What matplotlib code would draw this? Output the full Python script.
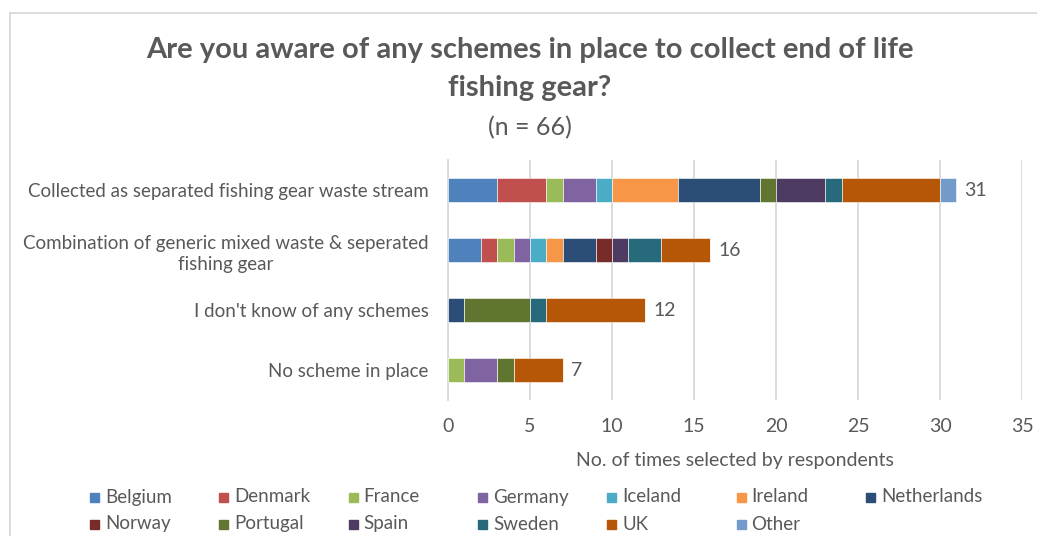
import matplotlib
matplotlib.use('Agg')
import matplotlib.pyplot as plt
from matplotlib.patches import Rectangle
from matplotlib.lines import Line2D
import numpy as np

categories = [
    'Collected as separated fishing gear waste stream',
    'Combination of generic mixed waste & seperated\nfishing gear',
    "I don't know of any schemes",
    'No scheme in place',
]
countries = ['Belgium', 'Denmark', 'France', 'Germany', 'Iceland', 'Ireland', 'Netherlands',
             'Norway', 'Portugal', 'Spain', 'Sweden', 'UK', 'Other']
# values per country, in category order
belgium = [3, 2, 0, 0]
denmark = [3, 1, 0, 0]
france = [1, 1, 0, 1]
germany = [2, 1, 0, 2]
iceland = [1, 1, 0, 0]
ireland = [4, 1, 0, 0]
netherlands = [5, 2, 1, 0]
norway = [0, 1, 0, 0]
portugal = [1, 0, 4, 1]
spain = [3, 1, 0, 0]
sweden = [1, 2, 1, 0]
uk = [6, 3, 6, 3]
other = [1, 0, 0, 0]
series = [belgium, denmark, france, germany, iceland, ireland, netherlands,
          norway, portugal, spain, sweden, uk, other]
colors = ['#4F81BD', '#C0504D', '#9BBB59', '#8064A2', '#4BACC6', '#F79646', '#2C4D75',
          '#772C2A', '#5F7530', '#4D3B62', '#276A7C', '#B65708', '#729ACA']

txt = '#595959'
plt.rcParams['font.family'] = ['Lato', 'DejaVu Sans']

W, H = 1037, 536
fig = plt.figure(figsize=(W / 100, H / 100), dpi=100)
ax = fig.add_axes([448 / W, 1 - 400 / H, (1022 - 448) / W, 240 / H])

y = np.arange(len(categories))
left = np.zeros(len(categories))
for name, vals, c in zip(countries, series, colors):
    vals = np.array(vals, dtype=float)
    ax.barh(y, vals, left=left, height=0.4, color=c, edgecolor='white', linewidth=0.4,
            label=name, zorder=3)
    left += vals

for yi, tot in zip(y, left):
    ax.text(tot + 0.5, yi, f'{int(tot)}', va='center', ha='left', fontsize=14, color=txt)

ax.set_xlim(0, 35)
ax.set_ylim(3.5, -0.5)
ax.set_xticks(range(0, 36, 5))
ax.set_yticks(y)
ax.set_yticklabels(categories, fontsize=13.5, color=txt)
for t in ax.get_yticklabels():
    t.set_multialignment('center')
    t.set_linespacing(1.35)
ax.tick_params(axis='y', length=0, pad=14)
ax.tick_params(axis='x', length=0, labelsize=14, labelcolor=txt, pad=13)
ax.grid(axis='x', color='#D9D9D9', linewidth=1.3, zorder=0)
for s in ['top', 'right', 'bottom']:
    ax.spines[s].set_visible(False)
ax.spines['left'].set_color('#D9D9D9')
ax.spines['left'].set_linewidth(1.3)
ax.set_xlabel('No. of times selected by respondents', fontsize=14, color=txt, labelpad=12)

fig.text(530 / W, 1 - 50 / H, 'Are you aware of any schemes in place to collect end of life',
         ha='center', va='center', fontsize=21, fontweight='bold', color=txt)
fig.text(530 / W, 1 - 88 / H, 'fishing gear?',
         ha='center', va='center', fontsize=21, fontweight='bold', color=txt)
fig.text(530 / W, 1 - 128 / H, '(n = 66)', ha='center', va='center', fontsize=18, color=txt)

# legend laid out in Excel-style fixed columns
for i, (name, c) in enumerate(zip(countries, colors)):
    row, col = divmod(i, 7)
    x0 = 90 + 129.3 * col
    y0 = 497 + 27 * row
    fig.patches.append(Rectangle((x0 / W, 1 - (y0 + 4.5) / H), 9 / W, 9 / H,
                                 transform=fig.transFigure, color=c))
    fig.text((x0 + 15) / W, 1 - y0 / H, name, ha='left', va='center', fontsize=13.5, color=txt)

# chart border
fig.add_artist(Line2D([10 / W, 10 / W], [0, 1 - 13 / H], color='#D9D9D9', linewidth=1.3))
fig.add_artist(Line2D([10 / W, 1], [1 - 13 / H, 1 - 13 / H], color='#D9D9D9', linewidth=1.3))

fig.savefig('out.png', dpi=100)
